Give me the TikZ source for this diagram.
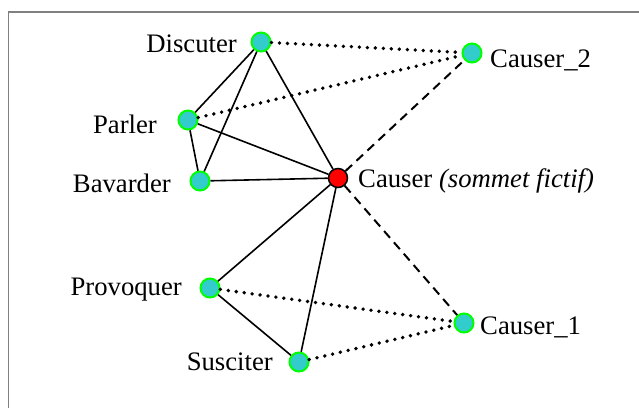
\documentclass[tikz,border=0pt]{standalone}
\usepackage{fontspec}
\setmainfont{Liberation Serif}
\definecolor{turq}{RGB}{51,204,204}
\definecolor{lgreen}{RGB}{0,255,0}
\definecolor{framegray}{RGB}{128,128,128}
\begin{document}
\begin{tikzpicture}[x=1pt,y=-1pt,
  vert/.style={circle,draw=lgreen,fill=turq,line width=2pt,minimum size=19pt,inner sep=0pt},
  fict/.style={circle,draw=black,fill=red,line width=1.5pt,minimum size=19pt,inner sep=0pt},
  lab/.style={font=\fontsize{26.7}{30}\selectfont,inner sep=0pt},
  plain/.style={line width=1.6pt,black},
  dotline/.style={line width=3.8pt,line cap=round,dash pattern=on 0pt off 8pt},
  dashline/.style={line width=2pt,dash pattern=on 9pt off 6pt}]
\useasboundingbox (0,0) rectangle (639,408);
\draw[framegray,line width=1.2pt] (639,12) -- (8.5,12) -- (8.5,408);
% vertices
\node[vert] (dis) at (261,42) {};
\node[vert] (par) at (188,120) {};
\node[vert] (bav) at (200,181) {};
\node[fict] (cau) at (338,178) {};
\node[vert] (c2) at (472,53) {};
\node[vert] (pro) at (210,288) {};
\node[vert] (sus) at (299,362) {};
\node[vert] (c1) at (464,323) {};
% labels
\node[lab,anchor=east] (ldis) at (237,44) {Discuter};
\node[lab,anchor=east] (lpar) at (157,124) {Parler};
\node[lab,anchor=east] (lbav) at (171,183) {Bavarder};
\node[lab,anchor=west] (lcau) at (358,181) {Causer \textit{(sommet fictif)}};
\node[lab,anchor=west] (lc2) at (490,60) {Causer\_2};
\node[lab,anchor=east] (lpro) at (182,290) {Provoquer};
\node[lab,anchor=west] (lc1) at (480,327) {Causer\_1};
\node[lab,anchor=east] (lsus) at (273,362) {Susciter};
% solid edges
\draw[plain] (dis) -- (par);
\draw[plain] (dis) -- (bav);
\draw[plain] (dis) -- (cau);
\draw[plain] (par) -- (bav);
\draw[plain] (par) -- (cau);
\draw[plain] (bav) -- (cau);
\draw[plain] (cau) -- (pro);
\draw[plain] (cau) -- (sus);
\draw[plain] (pro) -- (sus);
% dotted edges
\draw[dotline] (dis) -- (c2);
\draw[dotline] (par) -- (c2);
\draw[dotline] (pro) -- (c1);
\draw[dotline] (sus) -- (c1);
% dashed edges
\draw[dashline] (cau) -- (c2);
\draw[dashline] (cau) -- (c1);
\end{tikzpicture}
\end{document}
